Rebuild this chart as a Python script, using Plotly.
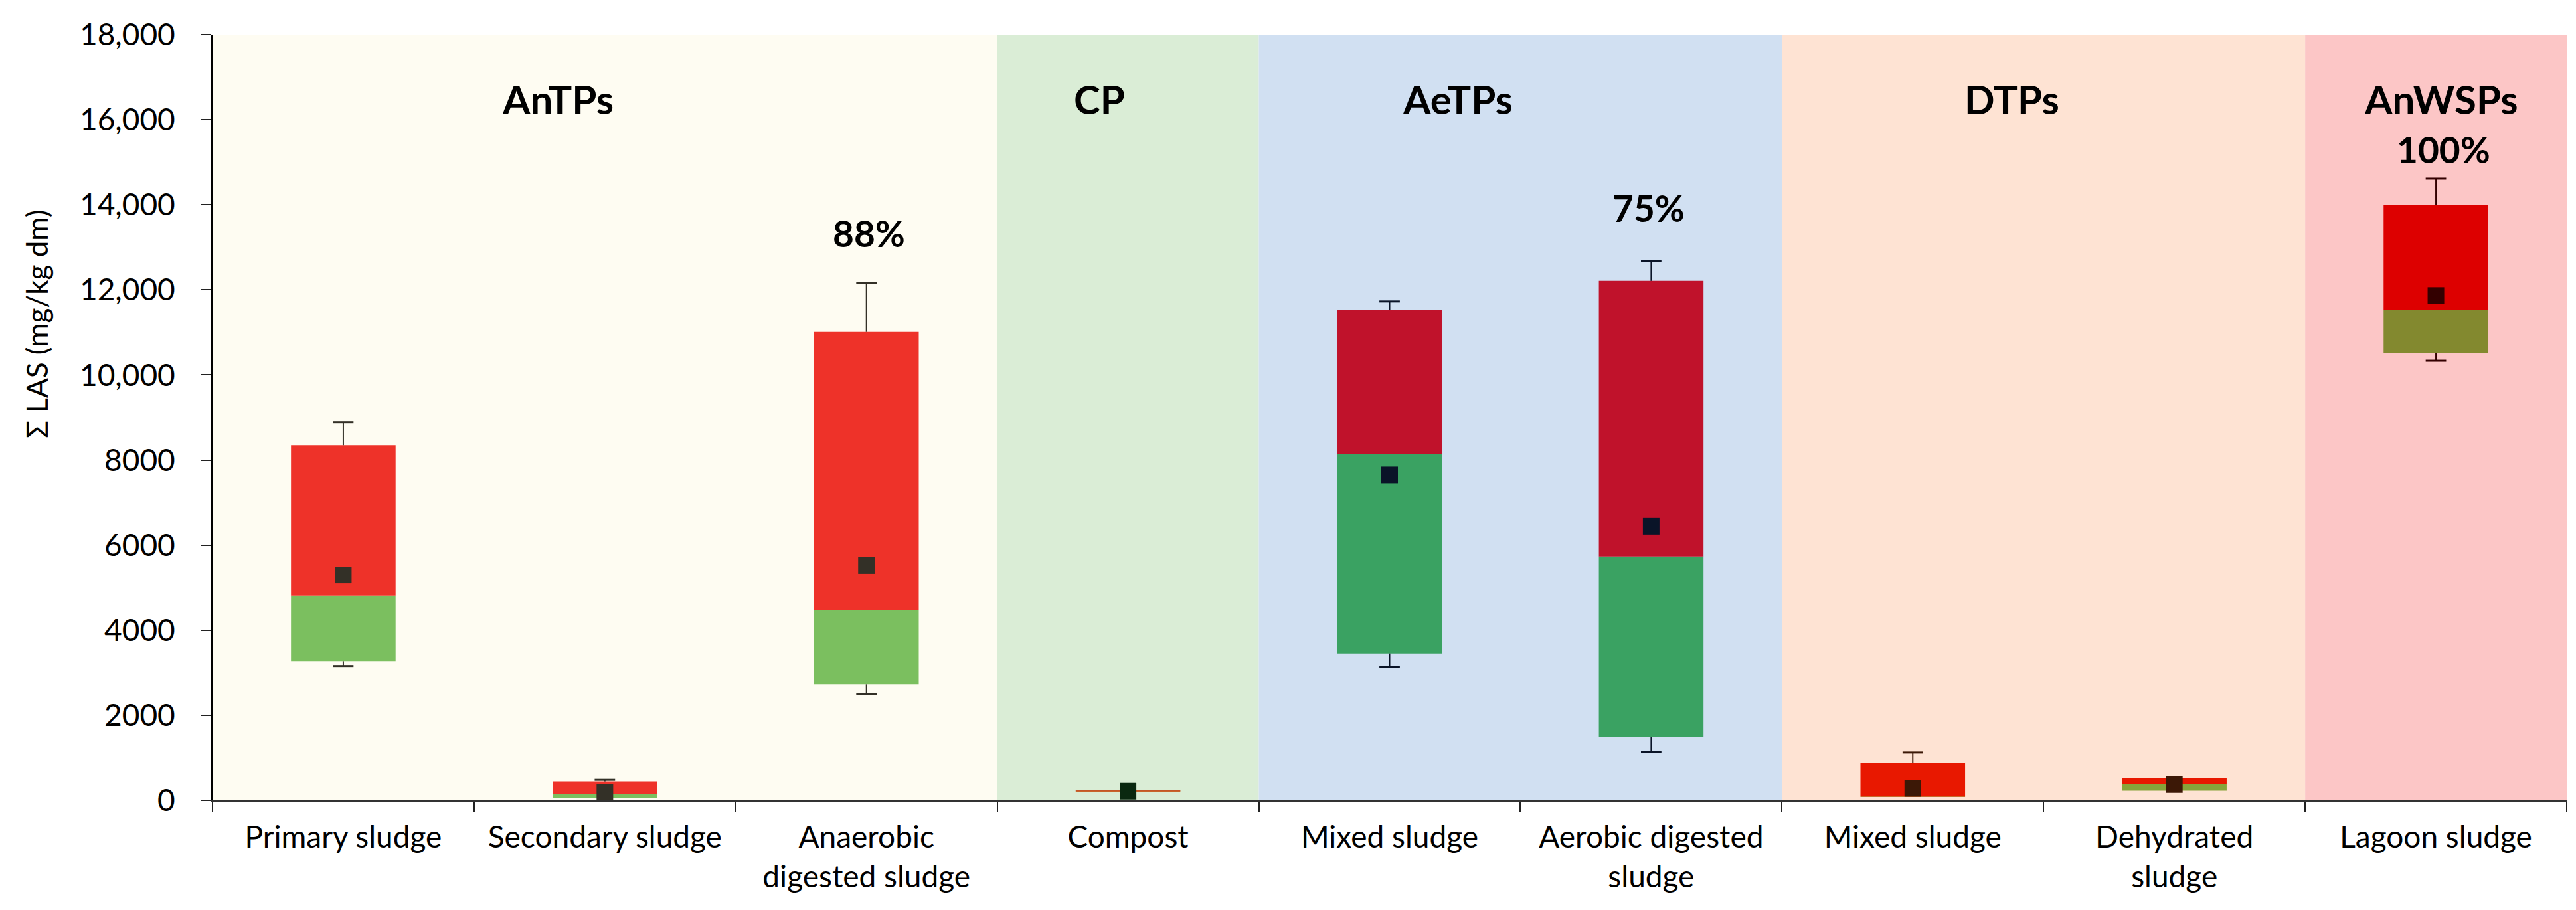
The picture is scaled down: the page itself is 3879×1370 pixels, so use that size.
import plotly.graph_objects as go

# ---------------- data ----------------
cat_ids = ["PS", "SS", "ADS", "CO", "MS1", "AeDS", "MS2", "DS", "LS"]
cat_labels = ["Primary sludge", "Secondary sludge", "Anaerobic<br>digested sludge",
              "Compost", "Mixed sludge", "Aerobic digested<br>sludge",
              "Mixed sludge", "Dehydrated<br>sludge", "Lagoon sludge"]

q1 = [3273, 50, 2727, 198, 3455, 1485, 80, 226, 10516]
median = [4812, 143, 4474, 221, 8148, 5732, 100, 382, 11524]
q3 = [8348, 444, 11010, 245, 11524, 12211, 881, 527, 13995]
vmax = [8888, 481, 12154, None, 11727, 12674, 1126, None, 14613]
vmin = [3159, None, 2503, None, 3143, 1146, None, None, 10334]
mean = [5299, 195, 5520, 215, 7651, 6442, 281, 371, 11867]

groups = ["AnTPs", "CP", "AeTPs", "DTPs", "AnWSPs"]
group_spans = [(0, 2), (3, 3), (4, 5), (6, 7), (8, 8)]
group_label_x = [0.82, 2.89, 4.26, 6.38, 8.02]
group_label_y = 16480

pct_labels = ["88%", "75%", "100%"]
pct_x = [2.01, 4.99, 8.03]
pct_y = [13330, 13930, 15300]

y_ticks = [0, 2000, 4000, 6000, 8000, 10000, 12000, 14000, 16000, 18000]
y_ticktext = ["0", "2000", "4000", "6000", "8000", "10,000", "12,000", "14,000", "16,000", "18,000"]

# ---------------- styles ----------------
band_colors = ["#FEFCF2", "#DAEDD6", "#D1E0F2", "#FEE3D3", "#FCC6C6"]
lower_colors = ["#7BBF5F", "#7BBF5F", "#7BBF5F", "#C8642C", "#3AA262", "#3AA262",
                "#C86A2A", "#87A43A", "#83892F"]
upper_colors = ["#EE3229", "#EE3229", "#EE3229", "#C4572A", "#C0122B", "#C0122B",
                "#E81800", "#E81800", "#DD0000"]
mean_colors = ["#333027", "#333027", "#333027", "#0A2810", "#0A1428", "#0A1428",
               "#3C1806", "#3C1806", "#330000"]
FONT = "Lato"

fig = go.Figure()

# lower part of the box (Q1 -> median)
fig.add_trace(go.Bar(
    x=cat_ids, base=q1, y=[m - a for m, a in zip(median, q1)],
    width=0.4, marker=dict(color=lower_colors, line=dict(width=0)),
    showlegend=False, hoverinfo="skip"))
# upper part of the box (median -> Q3)
fig.add_trace(go.Bar(
    x=cat_ids, base=median, y=[b - m for b, m in zip(q3, median)],
    width=0.4, marker=dict(color=upper_colors, line=dict(width=0)),
    showlegend=False, hoverinfo="skip"))

# whiskers
for i, c in enumerate(cat_ids):
    xs, ys, cx, cy = [], [], [], []
    if vmax[i] is not None:
        xs += [c, c, None]
        ys += [q3[i], vmax[i], None]
        cx.append(c); cy.append(vmax[i])
    if vmin[i] is not None:
        xs += [c, c, None]
        ys += [q1[i], vmin[i], None]
        cx.append(c); cy.append(vmin[i])
    if xs:
        fig.add_trace(go.Scatter(x=xs, y=ys, mode="lines",
                                 line=dict(color=mean_colors[i], width=2),
                                 showlegend=False, hoverinfo="skip"))
        fig.add_trace(go.Scatter(x=cx, y=cy, mode="markers",
                                 marker=dict(symbol="line-ew", size=22,
                                             line=dict(color=mean_colors[i], width=3)),
                                 showlegend=False, hoverinfo="skip"))

# mean markers
fig.add_trace(go.Scatter(
    x=cat_ids, y=mean, mode="markers",
    marker=dict(symbol="square", size=25, color=mean_colors, line=dict(width=0)),
    showlegend=False, hoverinfo="skip"))

# background bands
shapes = []
for (a, b), col in zip(group_spans, band_colors):
    shapes.append(dict(type="rect", xref="x", yref="y", x0=a - 0.5, x1=b + 0.5,
                       y0=0, y1=18000, fillcolor=col, line=dict(width=0), layer="below"))

annotations = []
for g, gx in zip(groups, group_label_x):
    annotations.append(dict(x=gx, y=group_label_y, xref="x", yref="y", text=g,
                            showarrow=False, xanchor="center", yanchor="middle",
                            font=dict(family=FONT, size=60, color="black", weight="bold")))
for t, px_, py_ in zip(pct_labels, pct_x, pct_y):
    annotations.append(dict(x=px_, y=py_, xref="x", yref="y", text=t,
                            showarrow=False, xanchor="center", yanchor="middle",
                            font=dict(family=FONT, size=55, color="black", weight="bold")))
annotations.append(dict(x=-0.0748, y=0.622, xref="paper", yref="paper",
                        text="Σ LAS (mg/kg dm)", textangle=-90, showarrow=False,
                        xanchor="center", yanchor="middle",
                        font=dict(family=FONT, size=44, color="black")))

fig.update_layout(
    width=3879, height=1370,
    margin=dict(l=312, r=22, t=44, b=173),
    paper_bgcolor="white", plot_bgcolor="white",
    barmode="overlay",
    shapes=shapes, annotations=annotations,
    font=dict(family=FONT, size=46, color="black"),
    showlegend=False,
)
fig.update_xaxes(
    type="category", categoryorder="array", categoryarray=cat_ids,
    tickmode="array", tickvals=cat_ids, ticktext=cat_labels,
    tickson="boundaries", ticks="outside", ticklen=16, tickwidth=2, tickcolor="#222",
    showline=True, linecolor="#333", linewidth=2,
    showgrid=False, zeroline=False, range=[-0.5, 8.5],
    tickfont=dict(family=FONT, size=46, color="black"),
    ticklabelstandoff=14,
)
fig.update_yaxes(
    range=[0, 18000], tickmode="array", tickvals=y_ticks, ticktext=y_ticktext,
    ticks="outside", ticklen=15, tickwidth=2, tickcolor="#222",
    showline=True, linecolor="black", linewidth=2,
    showgrid=False, zeroline=False,
    tickfont=dict(family=FONT, size=46, color="black"),
    ticklabelstandoff=30,
)

fig.write_html("out.html")
